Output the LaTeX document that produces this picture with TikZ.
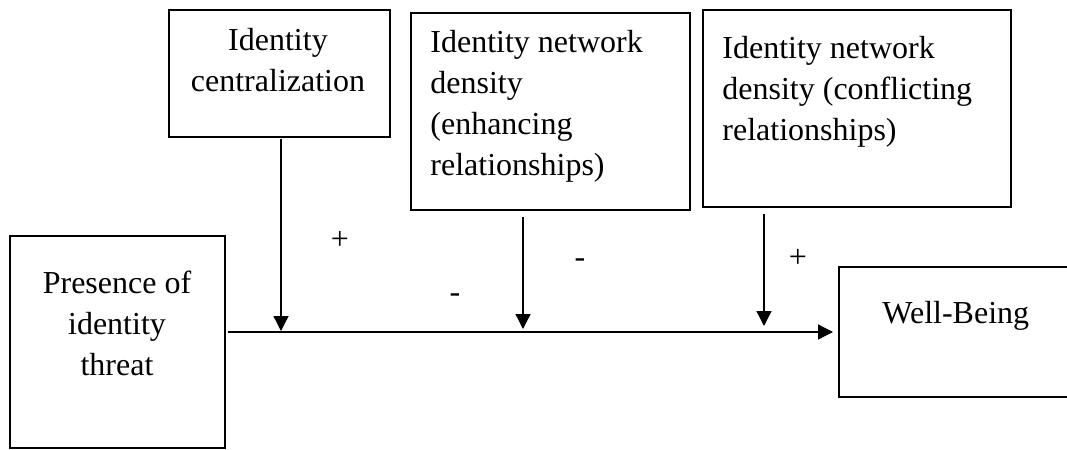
\documentclass[tikz,border=0pt]{standalone}
\usepackage{fontspec}
\setmainfont{Liberation Serif}
\usetikzlibrary{arrows.meta}
\begin{document}
\begin{tikzpicture}[x=0.5pt,y=-0.5pt,
  box/.style={draw,line width=1.2pt,rectangle,anchor=north west,inner sep=0pt,outer sep=0pt},
  txt/.style={inner sep=0pt,font=\fontsize{16}{20.5}\selectfont},
  sign/.style={inner sep=0pt,font=\fontsize{16}{20.5}\selectfont},
  arr/.style={line width=0.65pt,-{Triangle[width=7.5pt,length=7.5pt]}}]
\useasboundingbox (0,0) rectangle (1067,450);
\clip (0,0) rectangle (1067,450);
% boxes
\node[box,minimum width=110.5pt,minimum height=63.5pt] (A) at (169,10) {};
\node[box,minimum width=139.5pt,minimum height=98.5pt] (B) at (411,13) {};
\node[box,minimum width=154pt,minimum height=98.5pt] (C) at (703,10) {};
\node[box,minimum width=120.5pt,minimum height=65pt] (D) at (839,267) {};
\node[box,minimum width=107.5pt,minimum height=106pt] (P) at (10,236) {};
% texts
\node[txt,anchor=north,align=center] (tA) at (278,28) {Identity\\centralization};
\node[txt,anchor=north west,align=left] (tB) at (430,30) {Identity network\\density\\(enhancing\\relationships)};
\node[txt,anchor=north west,align=left] (tC) at (722,36) {Identity network\\density (conflicting\\relationships)};
\node[txt,anchor=north,align=center] (tP) at (117,271) {Presence of\\identity\\threat};
\node[txt,anchor=north west] (tD) at (882,301) {Well-Being};
% arrow targets
\coordinate (mline) at (0,332);
\coordinate (pA) at (281,331);
\coordinate (pB) at (523,329);
\coordinate (pC) at (764,326);
% connectors
\draw[arr,shorten <=1.5pt,shorten >=3pt] (P.east |- mline) -- (D.west |- mline);
\draw[arr,shorten <=1pt] (A.south -| pA) -- (pA);
\draw[arr,shorten <=3.5pt] (B.south -| pB) -- (pB);
\draw[arr,shorten <=3.5pt] (C.south -| pC) -- (pC);
% signs
\node[sign] (s1) at (340,240) {+};
\node[sign] (s2) at (455,298) {-};
\node[sign] (s3) at (580,263) {-};
\node[sign] (s4) at (798,258) {+};
\end{tikzpicture}
\end{document}
